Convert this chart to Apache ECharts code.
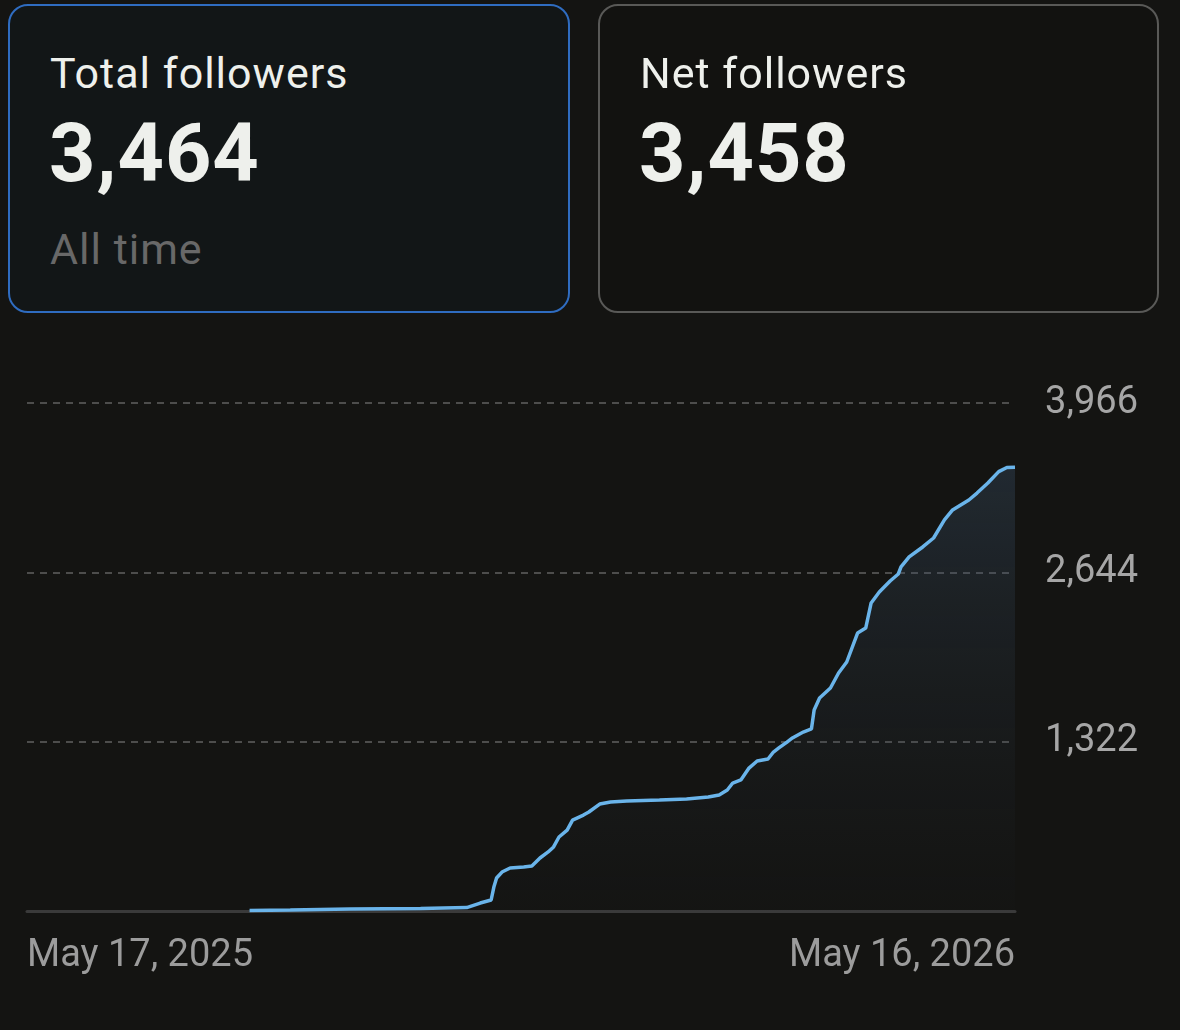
<!DOCTYPE html>
<html>
<head>
<meta charset="utf-8">
<script src="https://cdn.jsdelivr.net/npm/echarts@6/dist/echarts.min.js"></script>
<style>
    html, body { margin:0; padding:0; background:#141412; }
    body { width:1180px; height:1030px; position:relative; overflow:hidden; font-family:Roboto, "Noto Sans", sans-serif; }
    .card { position:absolute; top:4px; height:305px; border-radius:20px; box-sizing:content-box; }
    .card.active { left:8px; width:558px; border:2px solid #2f6cc0; background:#121617; }
    .card.plain { left:598px; width:557px; border:2px solid #595957; background:#121210; }
    .title { position:absolute; left:40px; top:46px; font-size:43px; line-height:43px; letter-spacing:1px; color:#eef0ec; }
    .num { position:absolute; left:39px; top:107px; font-size:81px; line-height:81px; font-weight:700; letter-spacing:1px; color:#eef0ec; }
    .sub { position:absolute; left:40px; top:222px; font-size:43px; line-height:43px; letter-spacing:1px; color:#686868; }
    #myChart { position:absolute; left:0; top:0; width:1180px; height:1030px; }
</style>
</head>
<body>
<div id="myChart"></div>
<div class="card active">
    <div class="title">Total followers</div>
    <div class="num">3,464</div>
    <div class="sub">All time</div>
</div>
<div class="card plain">
    <div class="title">Net followers</div>
    <div class="num">3,458</div>
</div>
<script>
// days since May 17, 2025 (0..364) and follower counts
var dayIndex = [82, 97, 119, 145, 162, 167, 171, 172, 173, 175, 178, 183, 186, 189, 192, 194, 196, 199, 201, 205,
    207, 211, 215, 221, 233, 243, 251, 255, 258, 260, 263, 266, 269, 273, 275, 277, 280, 282, 286, 289,
    290, 292, 296, 299, 302, 306, 309, 311, 314, 318, 321, 322, 325, 330, 334, 338, 341, 344, 347, 350,
    354, 358, 361, 364];
var followers = [4, 8, 16, 20, 27, 62, 86, 187, 258, 304, 336, 344, 351, 414, 461, 500, 578, 632, 710, 749,
    773, 835, 851, 859, 867, 874, 890, 906, 945, 999, 1023, 1116, 1171, 1187, 1241, 1273, 1319, 1351, 1397, 1421,
    1569, 1663, 1741, 1858, 1944, 2170, 2209, 2405, 2490, 2576, 2631, 2686, 2764, 2842, 2912, 3053, 3131, 3170, 3209, 3263,
    3341, 3430, 3462, 3464];
var xLabels = ['May 17, 2025', 'May 16, 2026'];
var yTicks = [0, 1322, 2644, 3966];

var chart = echarts.init(document.getElementById('myChart'));
chart.setOption({
    backgroundColor:'transparent',
    animation:false,
    grid:{
        left:27,
        right:165,
        top:403,
        bottom:119
    },
    xAxis:{
        type:'value',
        min:0,
        max:364,
        interval:364,
        splitLine:{ show:false },
        axisTick:{ show:false },
        axisLine:{
            show:true,
            lineStyle:{ color:'#3a3a3a', width:3 }
        },
        axisLabel:{
            margin:26,
            color:'#9c9c9c',
            fontSize:38,
            fontFamily:'Roboto',
            alignMinLabel:'left',
            alignMaxLabel:'right',
            formatter:function(v){
                if(v === 0) return xLabels[0];
                if(v === 364) return xLabels[1];
                return '';
            }
        }
    },
    yAxis:{
        type:'value',
        position:'right',
        min:yTicks[0],
        max:yTicks[3],
        interval:yTicks[1],
        axisLine:{ show:false },
        axisTick:{ show:false },
        splitLine:{
            show:true,
            lineStyle:{ color:'#606060', width:1.5, type:[7,6] }
        },
        axisLabel:{
            align:'right',
            margin:123,
            color:'#a6a6a6',
            fontSize:38,
            fontFamily:'Roboto',
            formatter:function(v){
                return v === 0 ? '' : v.toLocaleString('en-US');
            }
        }
    },
    series:[{
        type:'line',
        data:dayIndex.map(function(d, i){ return [d, followers[i]]; }),
        symbol:'none',
        smooth:false,
        lineStyle:{ color:'#6ab4ea', width:3.5 },
        areaStyle:{
            color:new echarts.graphic.LinearGradient(0, 0, 0, 1, [
                { offset:0, color:'rgba(64, 90, 118, 0.45)' },
                { offset:1, color:'rgba(40, 48, 58, 0.05)' }
            ])
        }
    }]
});
</script>
</body>
</html>
